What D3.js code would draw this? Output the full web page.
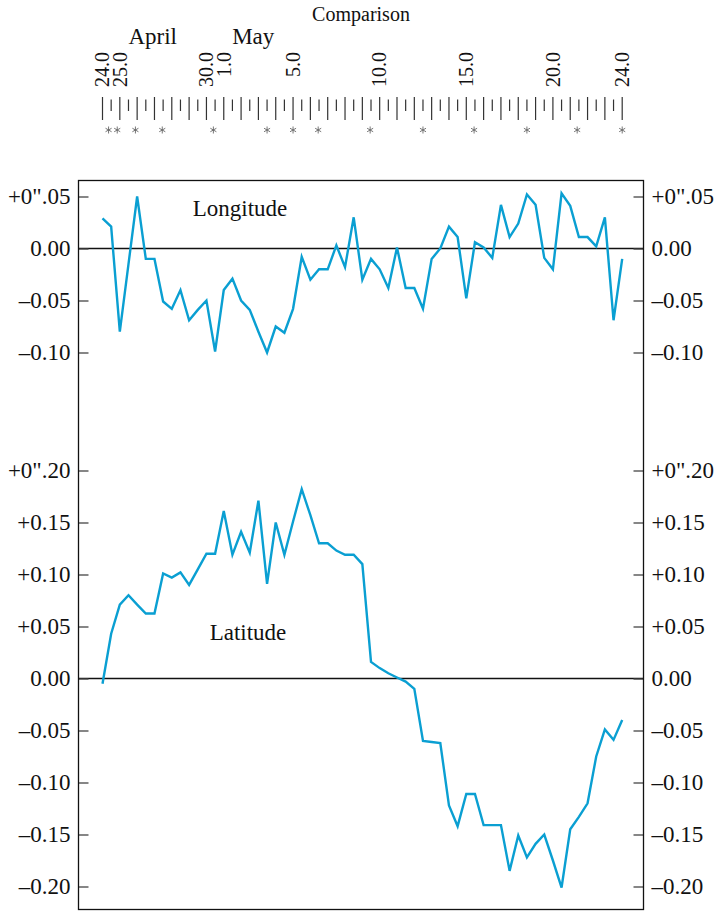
<!DOCTYPE html>
<html>
<head>
<meta charset="utf-8">
<script src="https://cdn.jsdelivr.net/npm/d3@7"></script>
<style>
  html, body { margin: 0; padding: 0; background: #fff; }
  svg { display: block; }
  text { font-family: "Liberation Serif", "Times New Roman", serif; fill: #111; }
</style>
</head>
<body>
<svg id="chart" width="717" height="912"></svg>
<script>
// Residuals sampled every half day from April 24.0 (day 0) to May 24.0 (day 30)
const sampleStep = 0.5;
const longitude = [
  0.029, 0.021, -0.080, -0.015, 0.050, -0.010, -0.010, -0.051, -0.058, -0.040,
  -0.069, -0.059, -0.050, -0.099, -0.040, -0.029, -0.050, -0.059, -0.080, -0.100,
  -0.075, -0.081, -0.058, -0.008, -0.030, -0.020, -0.020, 0.003, -0.018, 0.030,
  -0.030, -0.010, -0.020, -0.038, 0.001, -0.038, -0.038, -0.058, -0.010, 0.000,
  0.021, 0.011, -0.048, 0.006, 0.001, -0.009, 0.042, 0.011, 0.024, 0.052,
  0.042, -0.009, -0.020, 0.053, 0.041, 0.011, 0.011, 0.002, 0.030, -0.069,
  -0.010
];
const latitude = [
  -0.005, 0.043, 0.071, 0.080, 0.071, 0.0625, 0.0625, 0.101, 0.097, 0.102,
  0.090, 0.105, 0.120, 0.120, 0.161, 0.119, 0.141, 0.121, 0.171, 0.091,
  0.150, 0.119, 0.151, 0.182, 0.157, 0.130, 0.130, 0.123, 0.119, 0.119,
  0.110, 0.016, 0.010, 0.005, 0.001, -0.003, -0.010, -0.060, -0.061, -0.062,
  -0.122, -0.142, -0.111, -0.111, -0.141, -0.141, -0.141, -0.185, -0.151, -0.172,
  -0.159, -0.150, -0.175, -0.201, -0.145, -0.133, -0.120, -0.075, -0.049, -0.059,
  -0.040
];

// Date axis (days after April 24.0)
const dayLabelPos = [0, 1, 6, 7, 11, 16, 21, 26, 30];
const dayLabels = ["24.0", "25.0", "30.0", "1.0", "5.0", "10.0", "15.0", "20.0", "24.0"];
const monthLabels = ["April", "May"];
const monthLabelPos = [2.9, 8.7];
const comparisonDays = [0.35, 0.85, 1.9, 3.45, 6.4, 9.5, 11.0, 12.45, 15.45, 18.5, 21.45, 24.5, 27.4, 30.0];

// Value axes
const longTicks = [0.05, 0.00, -0.05, -0.10];
const longTickLabels = ['+0".05', "0.00", "\u20130.05", "\u20130.10"];
const latTicks = [0.20, 0.15, 0.10, 0.05, 0.00, -0.05, -0.10, -0.15, -0.20];
const latTickLabels = ['+0".20', "+0.15", "+0.10", "+0.05", "0.00", "\u20130.05", "\u20130.10", "\u20130.15", "\u20130.20"];

const svg = d3.select("#chart");
const frame = { left: 78.5, right: 643.5, top: 180.5, bottom: 909.5 };
const lineColor = "#0a9fd2";

const x = d3.scaleLinear().domain([0, 30]).range([102.5, 622.2]);
const yLong = d3.scaleLinear().domain([-0.10, 0.05]).range([352.5, 196.5]);
const yLat = d3.scaleLinear().domain([-0.20, 0.20]).range([886.5, 470.5]);

// Title and month names
svg.append("text").attr("x", 361).attr("y", 21).attr("text-anchor", "middle")
  .style("font-size", "20px").text("Comparison");
svg.selectAll("text.month").data(monthLabels).enter().append("text")
  .attr("class", "month")
  .attr("x", (d, i) => x(monthLabelPos[i]))
  .attr("y", 43.5).attr("text-anchor", "middle")
  .style("font-size", "23px").text(d => d);

// Rotated day labels
svg.selectAll("text.day").data(dayLabels).enter().append("text")
  .attr("class", "day")
  .attr("transform", (d, i) => `translate(${x(dayLabelPos[i])},52) rotate(-90)`)
  .attr("text-anchor", "end").attr("dy", "0.34em")
  .style("font-size", "20px").text(d => d);

// Half-day tick marks: long on whole days, short on half days
const halfDays = d3.range(0, 30 + 1e-9, 0.5);
svg.selectAll("line.dtick").data(halfDays).enter().append("line")
  .attr("class", "dtick")
  .attr("x1", d => x(d)).attr("x2", d => x(d))
  .attr("y1", d => Number.isInteger(d) ? 97 : 99.5)
  .attr("y2", d => Number.isInteger(d) ? 120 : 111)
  .attr("stroke", "#333").attr("stroke-width", 1.2);

// Comparison dates, marked with small asterisks
const star = d3.symbol().type(d3.symbolAsterisk).size(34);
svg.selectAll("path.star").data(comparisonDays).enter().append("path")
  .attr("class", "star")
  .attr("transform", d => `translate(${x(d)},130)`)
  .attr("d", star)
  .attr("fill", "none").attr("stroke", "#666").attr("stroke-width", 0.9);

// Zero lines
[yLong(0), yLat(0)].forEach(yy => {
  svg.append("line").attr("x1", frame.left).attr("x2", frame.right)
    .attr("y1", yy).attr("y2", yy).attr("stroke", "#111").attr("stroke-width", 1.3);
});

// Value axes on both sides, ticks pointing inward
function sideAxis(scale, ticks, labels, side) {
  const axis = (side === "left" ? d3.axisLeft(scale) : d3.axisRight(scale))
    .tickValues(ticks)
    .tickFormat((d, i) => labels[i])
    .tickSizeInner(-10).tickSizeOuter(0).tickPadding(8);
  const g = svg.append("g")
    .attr("transform", `translate(${side === "left" ? frame.left : frame.right},0)`)
    .call(axis);
  g.select(".domain").remove();
  g.selectAll(".tick line").attr("stroke", "#444").attr("stroke-width", 1.3);
  g.selectAll(".tick text")
    .style("font-family", '"Liberation Serif", "Times New Roman", serif')
    .style("font-size", "23px").attr("fill", "#111");
}
sideAxis(yLong, longTicks, longTickLabels, "left");
sideAxis(yLong, longTicks, longTickLabels, "right");
sideAxis(yLat, latTicks, latTickLabels, "left");
sideAxis(yLat, latTicks, latTickLabels, "right");

// Frame
svg.append("rect")
  .attr("x", frame.left).attr("y", frame.top)
  .attr("width", frame.right - frame.left).attr("height", frame.bottom - frame.top)
  .attr("fill", "none").attr("stroke", "#111").attr("stroke-width", 1.3);

// Series
const longLine = d3.line().x((d, i) => x(i * sampleStep)).y(d => yLong(d));
const latLine = d3.line().x((d, i) => x(i * sampleStep)).y(d => yLat(d));
svg.append("path").datum(longitude).attr("d", longLine)
  .attr("fill", "none").attr("stroke", lineColor).attr("stroke-width", 2.4);
svg.append("path").datum(latitude).attr("d", latLine)
  .attr("fill", "none").attr("stroke", lineColor).attr("stroke-width", 2.4);

// Series names
svg.append("text").attr("x", 240).attr("y", 216).attr("text-anchor", "middle")
  .style("font-size", "23px").text("Longitude");
svg.append("text").attr("x", 248).attr("y", 640).attr("text-anchor", "middle")
  .style("font-size", "23px").text("Latitude");
</script>
</body>
</html>
